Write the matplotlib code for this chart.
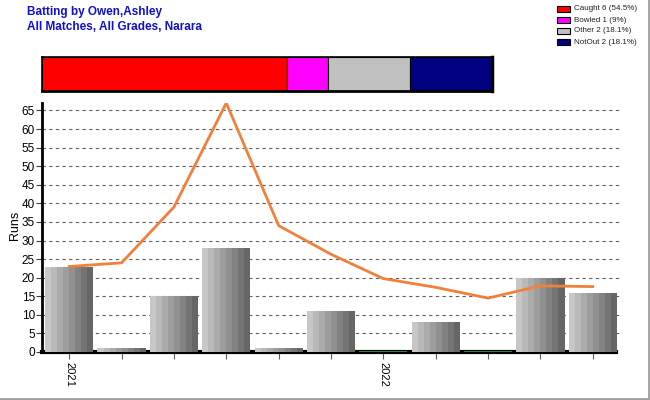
import numpy as np
import matplotlib
matplotlib.use("Agg")
from matplotlib import pyplot as plt
from matplotlib.lines import Line2D
from matplotlib.patches import Rectangle

plt.rcParams['font.family'] = ['Liberation Sans', 'DejaVu Sans']

# ---------------- data -----------------------------
runs = [23, 1, 15, 28, 1, 11, 0, 8, 0, 20, 16]
average = [23, 24, 39, 67, 34, 26.3, 19.75, 17.4, 14.5, 17.8, 17.6]
tick_labels = ["2021", "", "", "", "", "", "2022", "", "", "", ""]

dismissal_names = ["Caught", "Bowled", "Other", "NotOut"]
dismissal_counts = [6, 1, 2, 2]
dismissal_pct = ["54.5%", "9%", "18.1%", "18.1%"]
dismissal_colors = ["#ff0000", "#ff00ff", "#c0c0c0", "#000080"]

title_lines = ["Batting by Owen,Ashley", "All Matches, All Grades, Narara"]

fig = plt.figure(figsize=(6.5, 4), dpi=100)
fig.patch.set_facecolor("white")

# ---------------- titles -----------------------------
for i, t in enumerate(title_lines):
    fig.text(27 / 650, 1 - (12 + 15 * i) / 400, t, color="#1010d0", fontsize=8.5,
             fontweight="bold", va="center", ha="left")

# ---------------- legend -----------------------------
for i, name in enumerate(dismissal_names):
    yc = 1 - (9 + i * 11) / 400
    fig.patches.append(Rectangle((557 / 650, yc - 3 / 400), 13 / 650, 6 / 400,
                                 transform=fig.transFigure, facecolor=dismissal_colors[i],
                                 edgecolor="black", linewidth=0.8))
    fig.text(574 / 650, yc, "%s %d (%s)" % (name, dismissal_counts[i], dismissal_pct[i]),
             fontsize=5.8, va="center", ha="left", color="#202020")

# ---------------- dismissal bar -----------------------------
axd = fig.add_axes([42 / 650, 1 - 91 / 400, 450 / 650, 34 / 400])
left = 0
for i, c in enumerate(dismissal_counts):
    axd.barh(0, c, left=left, height=1, color=dismissal_colors[i], edgecolor="black",
             linewidth=0.8)
    left += c
axd.set_xlim(0, sum(dismissal_counts))
axd.set_ylim(-0.5, 0.5)
axd.set_xticks([])
axd.set_yticks([])
for s in axd.spines.values():
    s.set_linewidth(1.2)
axd.spines['right'].set_linewidth(2.5)
axd.spines['bottom'].set_linewidth(2)

# ---------------- main chart -----------------------------
ax = fig.add_axes([42 / 650, 48 / 400, 578 / 650, 249 / 400])
x = np.arange(len(runs))
bar_w = 0.92
stripes = 8
shades = np.linspace(0.78, 0.40, stripes)
sw = bar_w / stripes
for k in range(stripes):
    ax.bar(x - bar_w / 2 + sw * (k + 0.5), runs, width=sw, color=str(shades[k]),
           linewidth=0, zorder=3)
zero = [i for i, r in enumerate(runs) if r == 0]
ax.bar(zero, 0.25, width=bar_w, color="#3a7a3a", linewidth=0, zorder=3)

ax.plot(x, average, color="#f0803c", linewidth=2, zorder=4)

ax.set_xlim(-0.52, len(runs) - 0.48)
ax.set_ylim(0, 67)
ax.set_yticks(np.arange(0, 66, 5))
ax.set_xticks(x)
ax.set_xticklabels(tick_labels, rotation=-90, fontsize=8)
ax.tick_params(axis='y', labelsize=8.5, length=4, color="#404040", pad=1)
ax.tick_params(axis='x', length=5, color="#606060", pad=2)
ax.grid(axis='y', linestyle=(0, (3, 3)), color="#606060", linewidth=0.8, zorder=1)
ax.set_axisbelow(True)
ax.spines['top'].set_visible(False)
ax.spines['right'].set_visible(False)
ax.spines['left'].set_linewidth(2)
ax.spines['bottom'].set_linewidth(3)
ax.spines['bottom'].set_bounds(-0.52, len(runs) - 0.55)
ax.set_ylabel("Runs", fontsize=9)
ax.yaxis.set_label_coords(-0.037, 0.51)

# figure edge
fig.add_artist(Line2D([0, 1], [1 / 400, 1 / 400], transform=fig.transFigure,
                      color="#a0a0a0", linewidth=2))
fig.add_artist(Line2D([1 - 1 / 650, 1 - 1 / 650], [0, 1], transform=fig.transFigure,
                      color="#a0a0a0", linewidth=2))

fig.savefig("out.png", dpi=100)
